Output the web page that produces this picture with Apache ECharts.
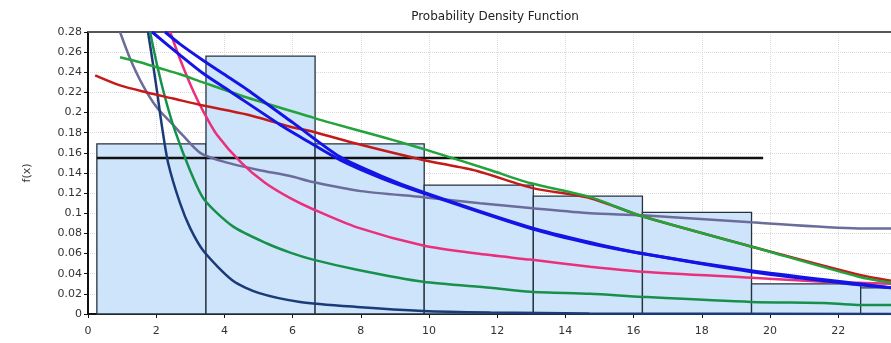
<!DOCTYPE html>
<html>
<head>
<meta charset="utf-8">
<script src="https://cdn.jsdelivr.net/npm/echarts@6/dist/echarts.min.js"></script>
<style>
  html, body { margin: 0; padding: 0; background: #fff; }
  #chart { width: 891px; height: 343px; }
</style>
</head>
<body>
<div id="chart"></div>
<script>
// histogram bins
const binEdges = [0.26, 3.46, 6.66, 9.86, 13.06, 16.26, 19.46, 22.66, 25.86];
const binHeights = [0.169, 0.256, 0.169, 0.128, 0.117, 0.101, 0.030, 0.026];

// flat reference line
const flatLine = [[0.26, 0.155], [19.8, 0.155]];

// fitted density curves [x, f(x)]
const navyCurve = [[1.76,0.28],[1.88,0.254],[2.02,0.222],[2.17,0.186],[2.35,0.15],[2.7,0.11],[3.0,0.085],[3.4,0.062],[4.25,0.033],[5.0,0.021],[6.22,0.012],[7.89,0.007],[9.83,0.003],[11.8,0.0015],[14.7,0.0005],[23.55,0]];
const darkGreenCurve = [[1.82,0.28],[2.02,0.248],[2.26,0.215],[2.55,0.182],[3.0,0.142],[3.4,0.114],[4.25,0.087],[5.25,0.07],[5.93,0.061],[6.6,0.054],[7.89,0.044],[9.83,0.032],[11.8,0.026],[12.97,0.022],[14.73,0.02],[16.25,0.017],[19.45,0.012],[21.56,0.011],[22.56,0.009],[23.55,0.009]];
const pinkCurve = [[2.41,0.28],[2.7,0.253],[3.08,0.222],[3.4,0.2],[3.78,0.178],[4.5,0.15],[5.2,0.13],[5.93,0.115],[6.6,0.104],[7.89,0.086],[9.83,0.068],[11.4,0.06],[12.97,0.054],[14.73,0.047],[16.25,0.042],[19.45,0.036],[21.56,0.032],[22.56,0.031],[23.55,0.03]];
const blueCurveA = [[1.88,0.28],[2.7,0.257],[3.37,0.239],[4.17,0.221],[5.63,0.188],[6.22,0.176],[7.39,0.153],[8.6,0.135],[9.83,0.12],[12.97,0.085],[14.73,0.07],[16.25,0.06],[19.45,0.042],[22.6,0.029],[23.55,0.026]];
const blueCurveB = [[2.26,0.28],[2.7,0.268],[3.37,0.252],[4.17,0.234],[4.66,0.223],[6.01,0.19],[7.39,0.156],[8.6,0.137],[9.83,0.121],[12.97,0.086],[14.73,0.071],[16.25,0.06],[19.45,0.043],[22.6,0.03],[23.55,0.026]];
const greenCurve = [[0.94,0.255],[1.53,0.25],[2.11,0.244],[2.7,0.238],[3.37,0.23],[4.66,0.215],[6.6,0.195],[7.1,0.19],[8.5,0.177],[9.83,0.164],[11.79,0.143],[12.97,0.13],[14.73,0.116],[16.25,0.097],[19.45,0.067],[22.6,0.037],[23.55,0.031]];
const redCurve = [[0.21,0.237],[0.94,0.227],[1.73,0.22],[2.49,0.214],[3.37,0.207],[4.66,0.198],[5.93,0.186],[6.6,0.181],[8.0,0.168],[9.83,0.153],[11.41,0.142],[13.05,0.125],[14.73,0.115],[16.25,0.097],[19.45,0.067],[22.6,0.039],[23.55,0.033]];
const slateCurve = [[0.94,0.28],[1.23,0.254],[1.61,0.227],[2.02,0.205],[2.49,0.188],[2.79,0.177],[3.29,0.16],[4.0,0.151],[5.0,0.143],[5.93,0.137],[6.6,0.131],[8.0,0.122],[9.83,0.116],[11.5,0.11],[13.05,0.105],[14.73,0.1],[16.25,0.098],[19.45,0.091],[22.6,0.085],[23.55,0.085]];

const font = 'DejaVu Sans';
const xMax = 23.55;

const binData = binHeights.map((h, i) => [binEdges[i], binEdges[i + 1], h]);

function curve(data, color, width) {
  return {
    type: 'line',
    data: data,
    smooth: 0.25,
    showSymbol: false,
    clip: true,
    lineStyle: { color: color, width: width || 2.5 },
    z: 5
  };
}

const chart = echarts.init(document.getElementById('chart'));
chart.setOption({
  animation: false,
  title: {
    text: 'Probability Density Function',
    left: 490,
    top: 6,
    textAlign: 'center',
    textStyle: { fontFamily: font, fontSize: 12, fontWeight: 'normal', color: '#222' }
  },
  grid: { left: 88, top: 32, bottom: 29, right: 0 },
  xAxis: [{
    type: 'value', min: 0, max: xMax, interval: 2,
    axisLine: { lineStyle: { color: '#111', width: 2 } },
    axisTick: { length: 4, lineStyle: { color: '#111' } },
    axisLabel: { fontFamily: font, fontSize: 11, color: '#333', margin: 12, showMaxLabel: false },
    splitLine: { lineStyle: { color: '#dadada', type: 'dotted' } }
  }, {
    type: 'value', min: 0, max: xMax, position: 'top',
    axisLine: { show: true, lineStyle: { color: '#555', width: 2 } },
    axisTick: { show: false }, axisLabel: { show: false }, splitLine: { show: false }
  }],
  yAxis: {
    type: 'value', min: 0, max: 0.28, interval: 0.02,
    name: 'f(x)', nameLocation: 'middle', nameGap: 55,
    nameTextStyle: { fontFamily: font, fontSize: 11, color: '#333' },
    axisLine: { show: true, lineStyle: { color: '#111', width: 2 } },
    axisTick: { show: true, length: 4, lineStyle: { color: '#111' } },
    axisLabel: { fontFamily: font, fontSize: 11, color: '#333', margin: 6 },
    splitLine: { lineStyle: { color: '#dadada', type: 'dotted' } }
  },
  series: [
    {
      type: 'custom',
      data: binData,
      encode: { x: [0, 1], y: 2 },
      z: 1,
      renderItem: function (params, api) {
        const p0 = api.coord([api.value(0), api.value(2)]);
        const p1 = api.coord([api.value(1), 0]);
        const rect = echarts.graphic.clipRectByRect(
          { x: p0[0], y: p0[1], width: p1[0] - p0[0], height: p1[1] - p0[1] },
          { x: params.coordSys.x, y: params.coordSys.y, width: params.coordSys.width + 2, height: params.coordSys.height }
        );
        return rect && {
          type: 'rect',
          shape: rect,
          style: { fill: '#cde4fa', stroke: '#26323e', lineWidth: 1.3 }
        };
      }
    },
    {
      type: 'line', data: flatLine, showSymbol: false, z: 4,
      lineStyle: { color: '#111', width: 2.5 }
    },
    curve(slateCurve, '#6c6c9c'),
    curve(navyCurve, '#1b3a78'),
    curve(darkGreenCurve, '#17904c'),
    curve(pinkCurve, '#ea2f7c'),
    curve(redCurve, '#c41a1a'),
    curve(greenCurve, '#23a33b'),
    curve(blueCurveA, '#1414e6', 3),
    curve(blueCurveB, '#1414e6', 3)
  ]
});
</script>
</body>
</html>
